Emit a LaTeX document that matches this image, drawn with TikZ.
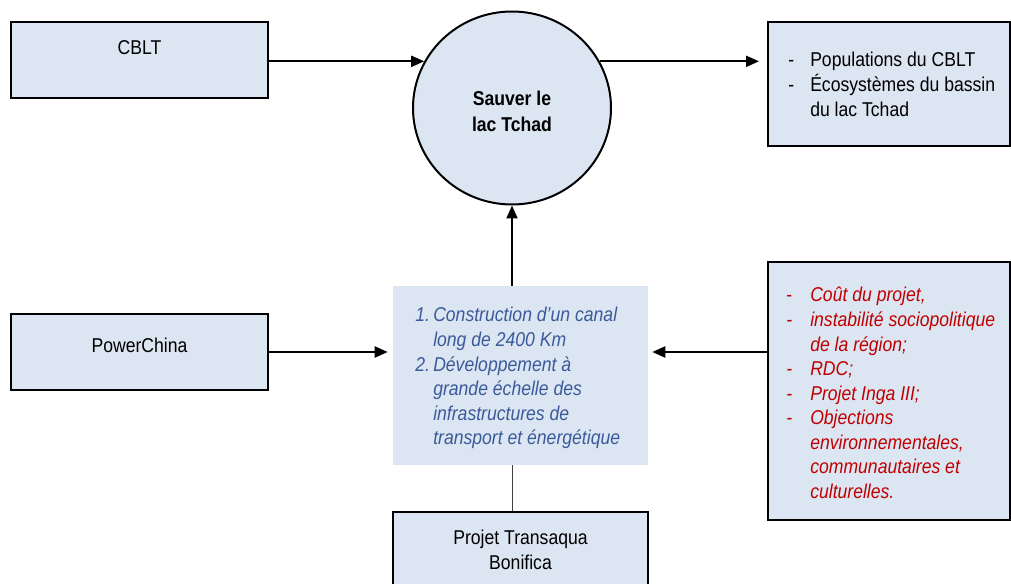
\documentclass[tikz,border=0pt]{standalone}
\usepackage{fontspec}
\setmainfont[FakeStretch=0.88]{Liberation Sans}
\usetikzlibrary{arrows.meta,shapes.geometric}
\definecolor{boxfill}{HTML}{DCE6F2}
\definecolor{bluetxt}{HTML}{3A5A9A}
\definecolor{redtxt}{HTML}{C00000}
\newlength{\upx}\setlength{\upx}{0.75pt}
\newcommand{\fs}{\fontsize{15pt}{18.4pt}\selectfont}
\newcommand{\hitem}[3]{\par\noindent\hangindent=#1\hangafter=1\makebox[#1][l]{#2}#3\par}
\tikzset{
  box/.style={draw=black, line width=1.5pt, fill=boxfill, rectangle, inner sep=0pt},
  plainbox/.style={fill=boxfill, rectangle, inner sep=0pt},
  txt/.style={inner sep=0pt, font=\fs},
  arr/.style={line width=1.5pt, -{Triangle[length=9.75pt,width=8.25pt]}},
  thinline/.style={line width=0.75pt, draw=black!75}
}
\begin{document}
\begin{tikzpicture}[x=0.75pt,y=-0.75pt]
\useasboundingbox (0,0) rectangle (1011,584);
\clip (0,0) rectangle (1011,584);
% boxes
\node[box, minimum width=257\upx, minimum height=76\upx] (cblt) at (139.5,60) {};
\node[txt] (cbltt) at (139.5,48) {CBLT};
\node[box, ellipse, minimum width=198\upx, minimum height=193\upx] (circ) at (512,108) {};
\node[txt, align=center, font=\fontsize{15pt}{19.5pt}\selectfont\bfseries] (circt) at (512,111) {Sauver le\\lac Tchad};
\node[box, minimum width=242\upx, minimum height=124\upx] (rbox) at (889,84) {};
\node[txt, anchor=base west] (rboxt) at (788,67) {\parbox[t]{300\upx}{\fontsize{15pt}{18.75pt}\selectfont\raggedright
  \hitem{22\upx}{-}{Populations du CBLT}%
  \hitem{22\upx}{-}{Écosystèmes du bassin\newline du lac Tchad}}};
\node[box, minimum width=257\upx, minimum height=76\upx] (pc) at (139.5,352) {};
\node[txt] (pct) at (139.5,345) {PowerChina};
\node[plainbox, minimum width=255\upx, minimum height=179\upx] (mid) at (520.5,375.5) {};
\node[txt, anchor=base west, text=bluetxt] (midt) at (415,322) {\parbox[t]{300\upx}{\fs\raggedright\itshape
  \hitem{18\upx}{1.}{Construction d’un canal\newline long de 2400 Km}%
  \hitem{18\upx}{2.}{Développement à\newline grande échelle des\newline infrastructures de\newline transport et énergétique}}};
\node[box, minimum width=242\upx, minimum height=258\upx] (red) at (889,391) {};
\node[txt, anchor=base west, text=redtxt] (redt) at (786,302) {\parbox[t]{300\upx}{\fs\raggedright
  \hitem{24\upx}{-}{\itshape Coût du projet,}%
  \hitem{24\upx}{-}{\itshape instabilité sociopolitique\newline de la région;}%
  \hitem{24\upx}{-}{\itshape RDC;}%
  \hitem{24\upx}{-}{\itshape Projet Inga III;}%
  \hitem{24\upx}{-}{\itshape Objections\newline environnementales,\newline communautaires et\newline culturelles.}}};
\node[box, minimum width=255\upx, minimum height=88\upx] (bot) at (520.5,556) {};
\node[txt, align=center] (bott) at (520.5,550) {Projet Transaqua\\Bonifica};
% connectors
\draw[arr] (cblt.east |- circ.152) -- (circ.152);
\draw[arr, shorten >=6pt] (circ.28) -- (circ.28 -| rbox.west);
\draw[arr] (circ.south |- mid.north) -- (circ.south);
\draw[arr, shorten >=3.75pt] (pc.east) -- (pc.east -| mid.west);
\draw[arr, shorten >=3pt] (red.west |- pc.east) -- (mid.east |- pc.east);
\draw[thinline] (circ.south |- mid.south) -- (circ.south |- bot.north);
\end{tikzpicture}
\end{document}
